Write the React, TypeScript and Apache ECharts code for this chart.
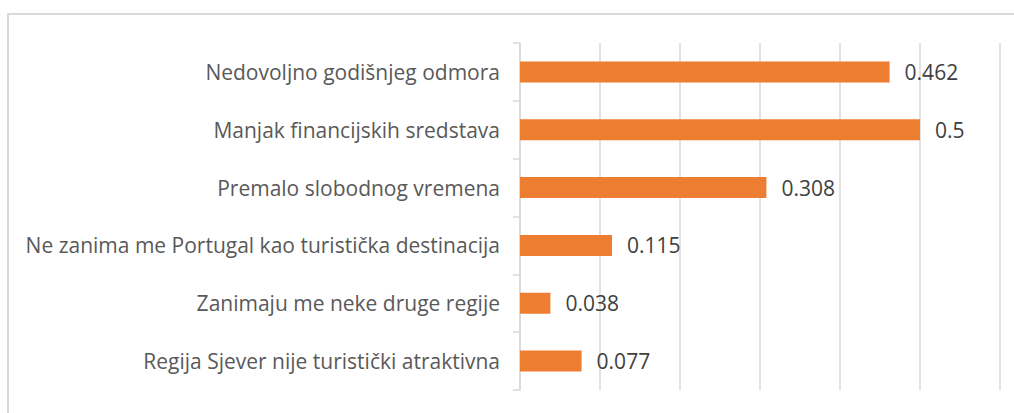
import React, { useEffect, useRef } from "react";
import * as echarts from "echarts";

const categories = [
  "Nedovoljno godišnjeg odmora",
  "Manjak financijskih sredstava",
  "Premalo slobodnog vremena",
  "Ne zanima me Portugal kao turistička destinacija",
  "Zanimaju me neke druge regije",
  "Regija Sjever nije turistički atraktivna",
];
const values = [0.462, 0.5, 0.308, 0.115, 0.038, 0.077];
const valueLabels = ["0.462", "0.5", "0.308", "0.115", "0.038", "0.077"];

export default function App() {
  const ref = useRef<HTMLDivElement>(null);
  useEffect(() => {
    if (!ref.current) return;
    const chart = echarts.init(ref.current, null, { renderer: "svg" });
    chart.setOption({
      animation: false,
      backgroundColor: "#ffffff",
      textStyle: { fontFamily: "Open Sans" },
      graphic: [
        {
          type: "rect",
          shape: { x: 8, y: 14, width: 1030, height: 430 },
          style: { fill: "none", stroke: "#d9d9d9", lineWidth: 2 },
          silent: true,
        },
      ],
      grid: { left: 520, right: 14, top: 43, bottom: 23, containLabel: false },
      xAxis: {
        type: "value",
        min: 0,
        max: 0.6,
        interval: 0.1,
        axisLabel: { show: false },
        axisLine: { show: false },
        axisTick: { show: false },
        splitLine: { show: true, lineStyle: { color: "#d9d9d9", width: 1.5 } },
      },
      yAxis: {
        type: "category",
        inverse: true,
        data: categories,
        axisLine: { show: true, lineStyle: { color: "#d9d9d9", width: 1.5 } },
        axisTick: { show: true, length: 7, lineStyle: { color: "#d9d9d9", width: 1.5 } },
        axisLabel: {
          color: "#595959",
          fontSize: 21,
          margin: 20,
          fontFamily: "Open Sans",
        },
      },
      series: [
        {
          type: "bar",
          data: values,
          barWidth: 21,
          itemStyle: { color: "#ED7D31" },
          label: {
            show: true,
            position: "right",
            distance: 15,
            color: "#404040",
            fontSize: 21,
            fontFamily: "Open Sans",
            formatter: (p: any) => valueLabels[p.dataIndex],
          },
        },
      ],
    });
    return () => chart.dispose();
  }, []);
  return (
    <div
      ref={ref}
      style={{ position: "fixed", left: 0, top: 0, width: 1014, height: 413 }}
    />
  );
}
